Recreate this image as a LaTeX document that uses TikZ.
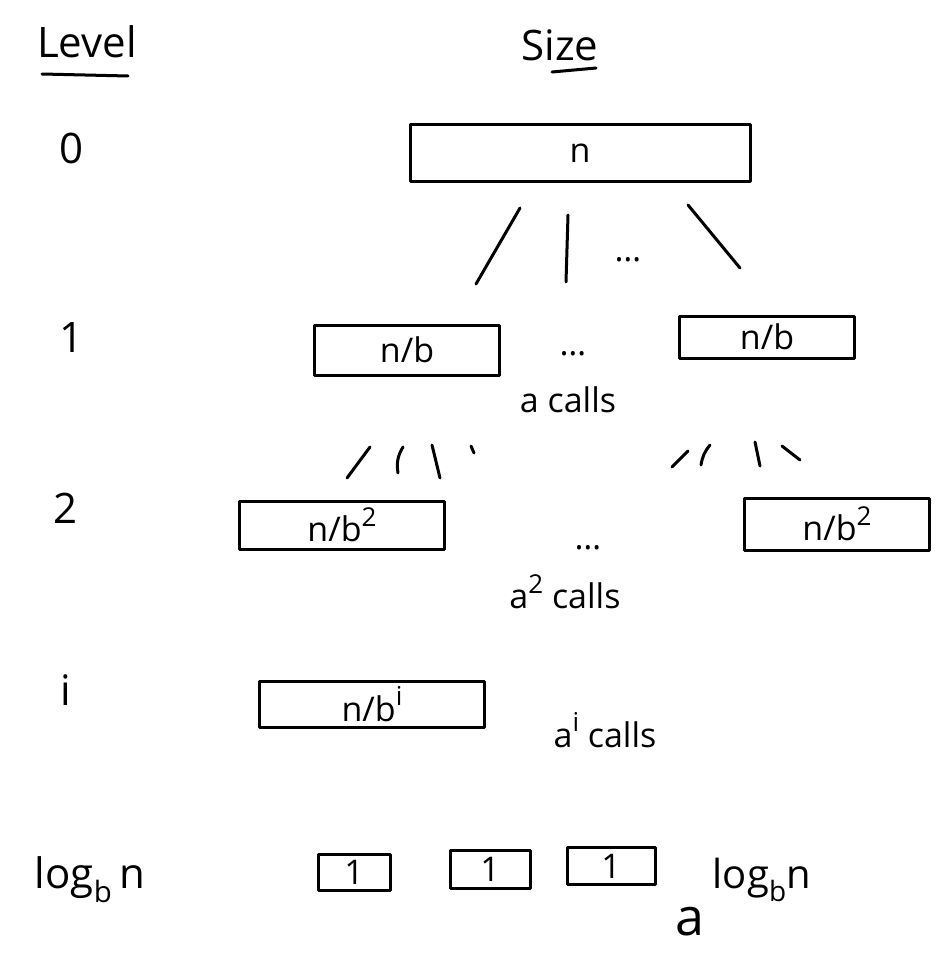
\documentclass[tikz,border=0pt]{standalone}
\usepackage{fontspec}
\setmainfont{Open Sans}
\newcommand{\hsup}[1]{\raisebox{0.45em}{\fontsize{26}{30}\selectfont #1}}
\begin{document}
\begin{tikzpicture}[x=1pt,y=-1pt,
  ink/.style={line width=3pt,line cap=round,line join=round},
  cell/.style={draw,ink,inner sep=0pt,font=\fontsize{34}{40}\selectfont},
  lbl/.style={font=\fontsize{42}{50}\selectfont,inner sep=0pt},
  txt/.style={font=\fontsize{34}{40}\selectfont,inner sep=0pt}]
\useasboundingbox (0,0) rectangle (949,966);
% headers
\node[lbl] (level) at (87,42) {Level};
\node[lbl] (size) at (560,45) {Size};
\coordinate (lu1) at (42,74); \coordinate (lu2) at (128,76);
\draw[ink] (lu1) -- (lu2);
\coordinate (su1) at (552,72); \coordinate (su2) at (596,68);
\draw[ink] (su1) -- (su2);
% level labels
\node[lbl] (l0) at (72,148) {0};
\node[lbl] (l1) at (72,338) {1};
\node[lbl] (l2) at (66,508) {2};
\node[lbl] (li) at (66,690) {i};
\node[lbl] (ll) at (90,880) {log\textsubscript{b}\,n};
% level 0
\node[cell,minimum width=340pt,minimum height=57pt] (n0) at (580,153) {n};
\coordinate (a1) at (520,208); \coordinate (a2) at (476,284);
\coordinate (b1) at (568,215); \coordinate (b2) at (566,282);
\coordinate (c1) at (688,205); \coordinate (c2) at (740,268);
\draw[ink] (a1) -- (a2);
\draw[ink] (b1) -- (b2);
\draw[ink] (c1) -- (c2);
\node[txt] (d0) at (628,260) {\dots};
% level 1
\node[cell,minimum width=185pt,minimum height=50pt] (n1a) at (407,350) {n/b};
\node[cell,minimum width=175pt,minimum height=42pt] (n1b) at (767,337) {n/b};
\node[txt] (d1) at (573,354) {\dots};
\node[txt] (c1t) at (568,400) {a calls};
\coordinate (e1) at (370,447); \coordinate (e2) at (347,478);
\coordinate (f1) at (403,447); \coordinate (f2) at (398,473);
\coordinate (g1) at (432,445); \coordinate (g2) at (440,478);
\coordinate (h1) at (471,446); \coordinate (h2) at (474,453);
\draw[ink] (e1) -- (e2);
\draw[ink] (f1) to[bend right=20] (f2);
\draw[ink] (g1) -- (g2);
\draw[ink] (h1) -- (h2);
\coordinate (p1) at (688,451); \coordinate (p2) at (672,467);
\coordinate (q1) at (710,445); \coordinate (q2) at (701,465);
\coordinate (r1) at (755,442); \coordinate (r2) at (760,466);
\coordinate (s1) at (782,446); \coordinate (s2) at (800,460);
\draw[ink] (p1) -- (p2);
\draw[ink] (q1) to[bend right=15] (q2);
\draw[ink] (r1) -- (r2);
\draw[ink] (s1) -- (s2);
% level 2
\node[cell,minimum width=205pt,minimum height=48pt] (n2a) at (342,525) {n/b\hsup{2}};
\node[cell,minimum width=185pt,minimum height=52pt] (n2b) at (837,524) {n/b\hsup{2}};
\node[txt] (d2) at (588,548) {\dots};
\node[txt] (c2t) at (565,592) {a\hsup{2} calls};
% level i
\node[cell,minimum width=225pt,minimum height=46pt] (ni) at (372,704) {n/b\hsup{i}};
\node[txt] (cit) at (605,730) {a\hsup{i} calls};
% leaves
\node[cell,minimum width=72pt,minimum height=36pt] (x1) at (354,872) {1};
\node[cell,minimum width=80pt,minimum height=38pt] (x2) at (490,869) {1};
\node[cell,minimum width=88pt,minimum height=37pt] (x3) at (611,866) {1};
\node[txt,font=\fontsize{52}{60}\selectfont] (alog) at (690,922) {a};
\node[txt,font=\fontsize{40}{46}\selectfont] (alogx) at (762,880) {log\textsubscript{b}n};
\end{tikzpicture}
\end{document}
